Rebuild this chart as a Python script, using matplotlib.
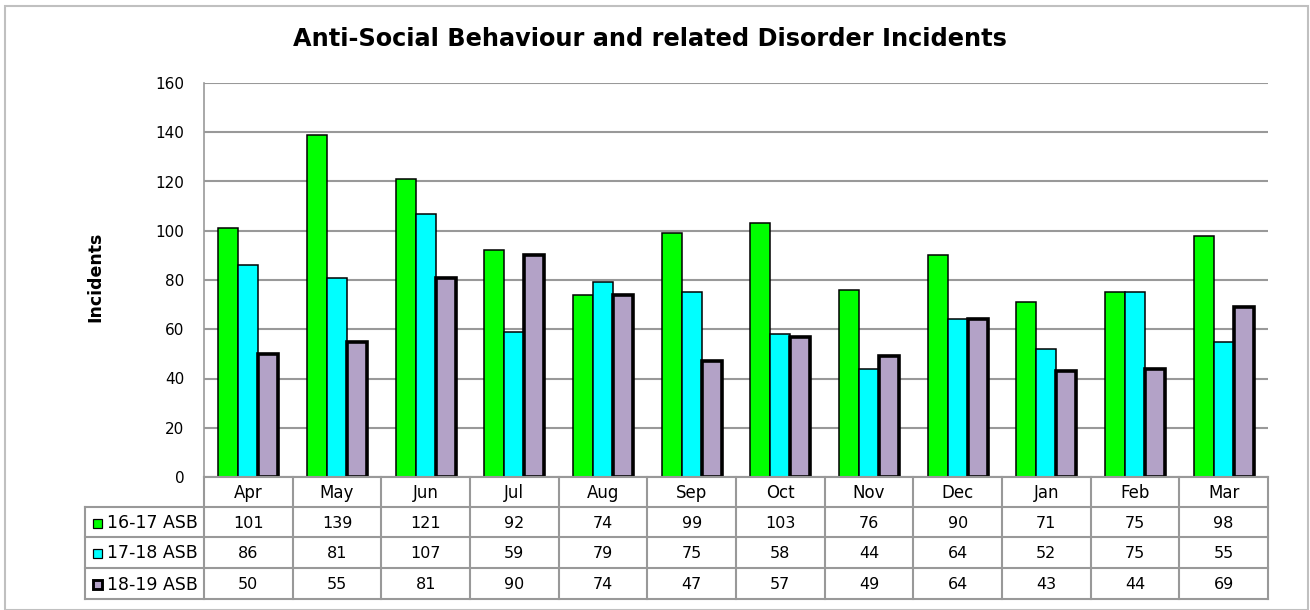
import matplotlib
matplotlib.use("Agg")
import matplotlib.pyplot as plt
from matplotlib.patches import Rectangle
import numpy as np

months = ['Apr', 'May', 'Jun', 'Jul', 'Aug', 'Sep', 'Oct', 'Nov', 'Dec', 'Jan', 'Feb', 'Mar']
series_names = ['16-17 ASB', '17-18 ASB', '18-19 ASB']
asb_1617 = [101, 139, 121, 92, 74, 99, 103, 76, 90, 71, 75, 98]
asb_1718 = [86, 81, 107, 59, 79, 75, 58, 44, 64, 52, 75, 55]
asb_1819 = [50, 55, 81, 90, 74, 47, 57, 49, 64, 43, 44, 69]

all_series = [asb_1617, asb_1718, asb_1819]
colors = ['#00ff00', '#00ffff', '#b3a2c7']
edge_widths = [1.1, 1.1, 2.6]
grid_col = '#999999'

W, H = 1310, 610
fig = plt.figure(figsize=(13.1, 6.1), dpi=100)

# outer chart border
fig.add_artist(Rectangle((5 / W, 0), 1303 / W, 1 - 6 / H, transform=fig.transFigure,
                         fill=False, edgecolor='#c0c0c0', linewidth=1.5))

# plot area in pixels
px_l, px_r, px_t, px_b = 204, 1268, 83, 477
ax = fig.add_axes([px_l / W, 1 - px_b / H, (px_r - px_l) / W, (px_b - px_t) / H])

x = np.arange(len(months))
bw = 0.225
for i, vals in enumerate(all_series):
    ax.bar(x + (i - 1) * bw, vals, width=bw, color=colors[i], edgecolor='black',
           linewidth=edge_widths[i], zorder=3)

ax.set_xlim(-0.5, len(months) - 0.5)
ax.set_ylim(0, 160)
ax.set_yticks(range(0, 161, 20))
ax.yaxis.grid(True, color=grid_col, linewidth=1.5, zorder=0)
ax.tick_params(axis='y', length=0, labelsize=11, pad=14)
ax.tick_params(axis='x', length=0, labelbottom=False)
for s in ['top', 'right', 'bottom']:
    ax.spines[s].set_visible(False)
ax.spines['left'].set_color(grid_col)
ax.spines['left'].set_linewidth(1.2)
ax.set_ylabel('Incidents', fontsize=12.5, fontweight='bold')
ax.yaxis.set_label_coords((104 - px_l) / (px_r - px_l), (px_b - 277) / (px_b - px_t))

fig.suptitle('Anti-Social Behaviour and related Disorder Incidents',
             fontsize=17.3, fontweight='bold', x=650 / W, y=1 - 39 / H, va='center')

# data table below plot area, drawn in a second axes spanning pixel space
tab = fig.add_axes([0, 0, 1, 1])
tab.set_xlim(0, W)
tab.set_ylim(H, 0)
tab.axis('off')

cell_w = (px_r - px_l) / len(months)
row_edges = [477, 507, 537, 568, 599]
tab_left = 85
lk = dict(color=grid_col, linewidth=1.5)

# horizontal lines
tab.plot([px_l, px_r], [row_edges[0]] * 2, **lk)
for y in row_edges[1:]:
    tab.plot([tab_left, px_r], [y, y], **lk)
# vertical lines
for k in range(len(months) + 1):
    xx = px_l + k * cell_w
    tab.plot([xx, xx], [row_edges[0], row_edges[-1]], **lk)
tab.plot([tab_left, tab_left], [row_edges[1], row_edges[-1]], **lk)

for k, m in enumerate(months):
    tab.text(px_l + (k + 0.5) * cell_w, (row_edges[0] + row_edges[1]) / 2 + 1, m,
             ha='center', va='center', fontsize=12)

for r, vals in enumerate(all_series):
    yc = (row_edges[r + 1] + row_edges[r + 2]) / 2 + 1
    tab.add_patch(Rectangle((93, yc - 4.5), 9, 9, facecolor=colors[r], edgecolor='black',
                            linewidth=edge_widths[r] * 0.8))
    tab.text(107, yc, series_names[r], ha='left', va='center', fontsize=12.5)
    for k, v in enumerate(vals):
        tab.text(px_l + (k + 0.5) * cell_w, yc, str(v), ha='center', va='center', fontsize=11.5)

fig.savefig('out.png', dpi=100)
